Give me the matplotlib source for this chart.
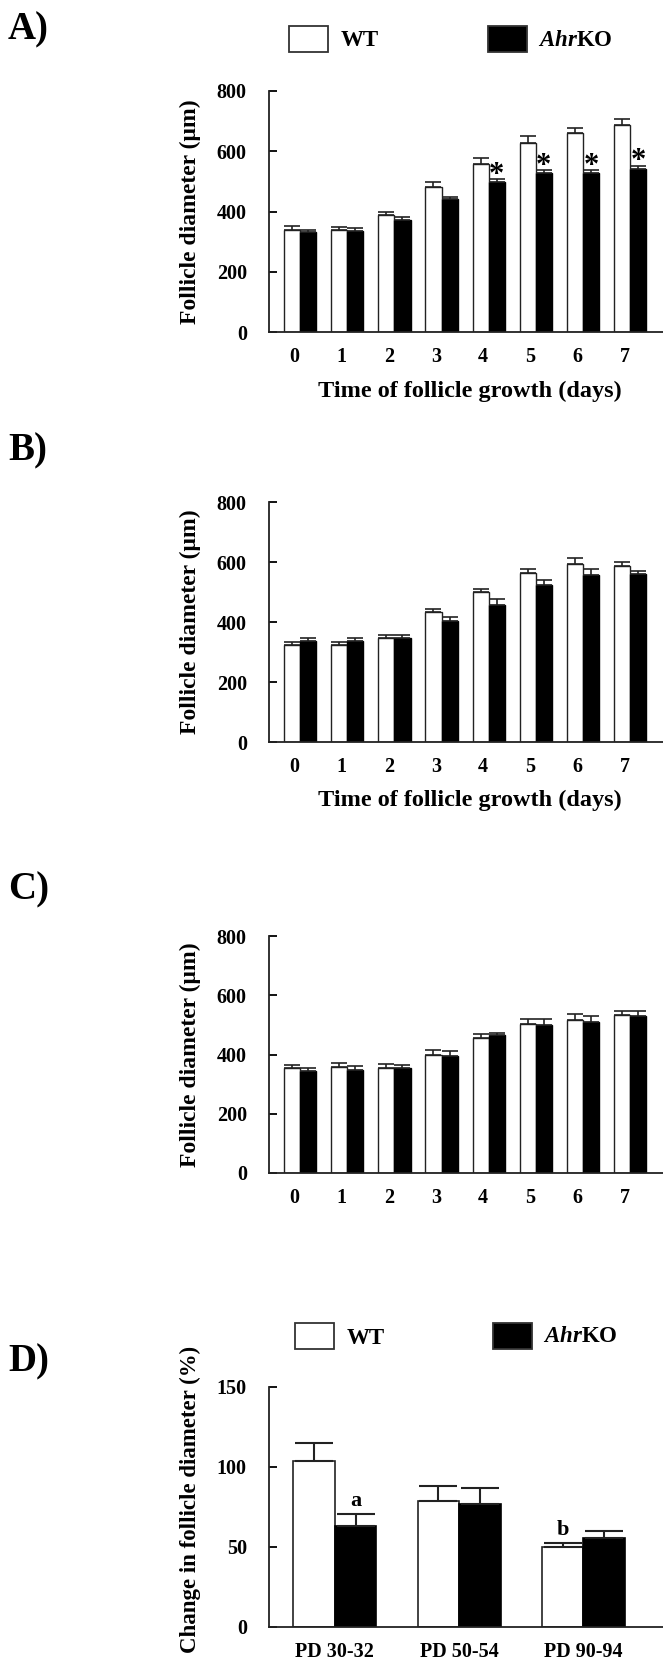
import matplotlib
matplotlib.use('Agg')
import matplotlib.pyplot as plt
import numpy as np
from matplotlib.patches import Rectangle

plt.rcParams['font.family'] = 'Liberation Serif'
plt.rcParams['font.weight'] = 'bold'
plt.rcParams['mathtext.fontset'] = 'custom'
plt.rcParams['mathtext.rm'] = 'Liberation Serif:bold'
plt.rcParams['mathtext.it'] = 'Liberation Serif:italic:bold'

# data
days = ['0', '1', '2', '3', '4', '5', '6', '7']

a_wt = [338, 338, 388, 482, 558, 629, 660, 687]
a_wt_err = [14, 12, 10, 15, 20, 20, 17, 20]
a_ko = [331, 336, 372, 441, 499, 527, 527, 541]
a_ko_err = [9, 8, 9, 6, 8, 10, 10, 11]
a_stars = ['', '', '', '', '*', '*', '*', '*']

b_wt = [324, 324, 347, 433, 499, 562, 595, 586]
b_wt_err = [9, 9, 10, 10, 10, 14, 18, 15]
b_ko = [338, 338, 347, 402, 458, 523, 556, 559]
b_ko_err = [8, 8, 10, 16, 19, 17, 20, 12]

c_wt = [354, 358, 355, 398, 455, 504, 518, 533]
c_wt_err = [12, 12, 13, 17, 13, 16, 18, 15]
c_ko = [343, 349, 353, 395, 465, 501, 510, 530]
c_ko_err = [10, 12, 13, 17, 9, 19, 20, 18]

ages = ['PD 30-32', 'PD 50-54', 'PD 90-94']
d_wt = [103.6, 79, 50.1]
d_wt_err = [11.3, 9.2, 2.5]
d_ko = [63.1, 76.7, 55.4]
d_ko_err = [7.5, 10, 4.8]
d_wt_marks = ['', '', 'b']
d_ko_marks = ['a', '', '']

W, H = 663, 1666
fig = plt.figure(figsize=(W / 100, H / 100), dpi=100)


def fig_box(top, bottom):
    # pixel rows -> figure fraction
    return [269 / W, 1 - bottom / H, 1 - 269 / W, (bottom - top) / H]


def style_axes(ax):
    for s in ['top', 'right']:
        ax.spines[s].set_visible(False)
    for s in ['left', 'bottom']:
        ax.spines[s].set_linewidth(1.3)
        ax.spines[s].set_color('#222222')
    ax.tick_params(axis='y', direction='in', length=6, width=1.3, pad=16,
                   labelsize=14.5)
    ax.tick_params(axis='x', length=0, pad=11, labelsize=14.5)


def day_panel(top, bottom, wt, wt_err, ko, ko_err, stars=None, xlabel=True):
    ax = fig.add_axes(fig_box(top, bottom))
    x = np.arange(len(days))
    w = 0.342
    ax.bar(x - w / 2, wt, w, color='white', edgecolor='#222222', linewidth=1)
    ax.bar(x + w / 2, ko, w, color='black', edgecolor='black', linewidth=1)
    ax.errorbar(x - w / 2, wt, yerr=[np.zeros(len(wt)), wt_err], fmt='none',
                ecolor='#222222', elinewidth=1.2, capsize=6, capthick=1.2)
    ax.errorbar(x + w / 2, ko, yerr=[np.zeros(len(ko)), ko_err], fmt='none',
                ecolor='#222222', elinewidth=1.2, capsize=6, capthick=1.2)
    if stars:
        for i, s in enumerate(stars):
            if s:
                ax.text(x[i] + w / 2, ko[i] + ko_err[i] - 12, s, ha='center',
                        va='baseline', fontsize=22)
    ax.set_xlim(-0.662, 7.70)
    ax.set_ylim(0, 800)
    ax.set_yticks([0, 200, 400, 600, 800])
    ax.set_xticks(x - 0.117)
    ax.set_xticklabels(days)
    style_axes(ax)
    ax.text(-0.2005, 0.5, 'Follicle diameter (\u03bcm)', rotation=90,
            ha='center', va='center', fontsize=17, transform=ax.transAxes)
    if xlabel:
        ax.text(0.51, -0.245, 'Time of follicle growth (days)', ha='center',
                va='center', fontsize=17.5, transform=ax.transAxes)
    return ax


def legend(yc, x_wt, x_ko):
    h = 26
    for x0, fc in [(x_wt, 'white'), (x_ko, 'black')]:
        fig.add_artist(Rectangle((x0 / W, 1 - (yc + h / 2) / H), 39 / W, h / H,
                                 transform=fig.transFigure, facecolor=fc,
                                 edgecolor='#333333', linewidth=1.3))
    fig.text((x_wt + 52) / W, 1 - (yc + 2) / H, 'WT', ha='left', va='center',
             fontsize=16.5)
    fig.text((x_ko + 50) / W, 1 - (yc + 1) / H, r'$\mathit{Ahr}\mathrm{KO}$',
             ha='left', va='center', fontsize=16.5)


# panel letters
for lab, yc in [('A)', 30), ('B)', 451), ('C)', 890), ('D)', 1362)]:
    fig.text(8 / W, 1 - yc / H, lab, ha='left', va='center', fontsize=28)

legend(39, 289, 488)
day_panel(91, 332, a_wt, a_wt_err, a_ko, a_ko_err, stars=a_stars)
day_panel(502, 742, b_wt, b_wt_err, b_ko, b_ko_err)
day_panel(936, 1173, c_wt, c_wt_err, c_ko, c_ko_err, xlabel=False)

# panel D
legend(1336, 295, 493)
ax = fig.add_axes(fig_box(1387, 1627))
x = np.arange(len(ages))
w = 0.334
ax.bar(x - w / 2, d_wt, w, color='white', edgecolor='#222222', linewidth=1.2)
ax.bar(x + w / 2, d_ko, w, color='black', edgecolor='black', linewidth=1.2)
ax.errorbar(x - w / 2, d_wt, yerr=[np.zeros(3), d_wt_err], fmt='none',
            ecolor='#222222', elinewidth=1.5, capsize=14, capthick=1.5)
ax.errorbar(x + w / 2, d_ko, yerr=[np.zeros(3), d_ko_err], fmt='none',
            ecolor='#222222', elinewidth=1.5, capsize=14, capthick=1.5)
for i in range(3):
    if d_wt_marks[i]:
        ax.text(x[i] - w / 2, d_wt[i] + d_wt_err[i] + 2, d_wt_marks[i],
                ha='center', va='bottom', fontsize=16)
    if d_ko_marks[i]:
        ax.text(x[i] + w / 2, d_ko[i] + d_ko_err[i] + 2, d_ko_marks[i],
                ha='center', va='bottom', fontsize=16)
ax.set_xlim(-0.53, 2.64)
ax.set_ylim(0, 150)
ax.set_yticks([0, 50, 100, 150])
ax.set_xticks(x)
ax.set_xticklabels(ages)
style_axes(ax)
ax.text(-0.2005, 0.53, 'Change in follicle diameter (%)', rotation=90,
        ha='center', va='center', fontsize=16.5, transform=ax.transAxes)

fig.savefig('out.png', dpi=100)
